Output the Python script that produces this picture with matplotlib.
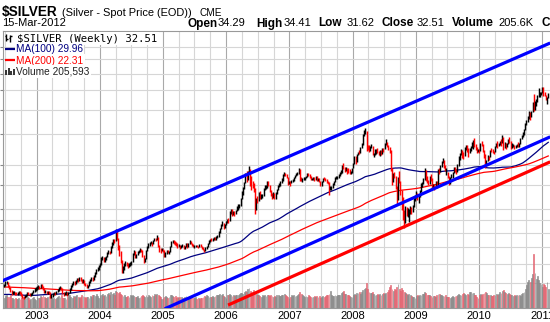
import numpy as np
import pandas as pd
import matplotlib
matplotlib.use("Agg")
import matplotlib.pyplot as plt
import matplotlib.dates as mdates
import matplotlib.transforms as mtransforms
from matplotlib.lines import Line2D
from matplotlib.ticker import FixedLocator, NullLocator, NullFormatter

# weekly closes from Aug 1998 up to the first plotted week, used only to seed the moving averages
warmup_closes = [
    5.20, 5.15, 5.05, 4.98, 5.12, 5.25, 5.30, 5.45, 5.20, 5.05, 4.95, 4.90, 4.98, 5.02, 4.95, 4.90, 4.92, 4.85, 4.92, 4.95, 4.98,
    5.00, 5.10, 5.15, 5.20, 5.30, 5.55, 5.60, 5.50, 5.40, 5.30, 5.10, 5.05, 5.02, 5.00, 5.05, 5.10, 5.20, 5.30, 5.35, 5.30, 5.20,
    5.15, 5.05, 5.10, 5.12, 5.20, 5.30, 5.40, 5.45, 5.35, 5.30, 5.25, 5.20, 5.22, 5.30, 5.25, 5.30, 5.45, 5.65, 5.50, 5.40, 5.35,
    5.30, 5.15, 5.15, 5.20, 5.10, 5.10, 5.20, 5.30, 5.35, 5.40, 5.40,
    5.25, 5.20, 5.15, 5.30, 5.35, 5.30, 5.25, 5.20, 5.10, 5.05, 5.00, 5.05, 5.00, 5.02, 4.98, 4.95, 4.95, 5.00, 5.02, 4.98, 4.95,
    4.98, 5.00, 5.02, 5.05, 5.00, 4.98, 4.95, 4.92, 4.90, 4.88, 4.85, 4.90, 4.92, 4.95, 4.92, 4.90, 4.85, 4.88, 4.85, 4.80, 4.75,
    4.78, 4.75, 4.72, 4.70, 4.65, 4.62, 4.60, 4.58, 4.55, 4.58,
    4.60, 4.62, 4.58, 4.55, 4.50, 4.48, 4.45, 4.42, 4.40, 4.38, 4.35, 4.32, 4.30, 4.32, 4.35, 4.38, 4.40, 4.42, 4.45, 4.40, 4.38,
    4.40, 4.38, 4.35, 4.32, 4.30, 4.28, 4.25, 4.22, 4.20, 4.18, 4.20, 4.22, 4.25, 4.28, 4.30, 4.40, 4.45, 4.38, 4.35, 4.30, 4.25,
    4.20, 4.15, 4.12, 4.10, 4.12, 4.15, 4.25, 4.35, 4.50, 4.55,
    4.58, 4.52, 4.48, 4.45, 4.42, 4.40, 4.45, 4.50, 4.55, 4.60, 4.58, 4.55, 4.58, 4.55, 4.60, 4.58, 4.62, 4.65, 4.70, 4.75, 4.85,
    4.90, 4.95, 4.88, 4.90,
]

first_week = "2002-06-28"

# weekly bars, $SILVER spot, Jun 2002 - Feb 2011
closes = [
    4.92, 5.02, 5.05, 4.90, 4.82, 4.65, 4.55, 4.58, 4.60, 4.55, 4.52, 4.58, 4.62, 4.58, 4.50, 4.40, 4.38, 4.45,
    4.48, 4.55, 4.52, 4.48, 4.52, 4.58, 4.65, 4.72, 4.75,
    # 2003
    4.80, 4.85, 4.82, 4.90, 4.85, 4.75, 4.62, 4.65, 4.60, 4.62, 4.58, 4.45, 4.45, 4.52, 4.58, 4.55, 4.62, 4.70,
    4.78, 4.82, 4.75, 4.55, 4.52, 4.55, 4.58, 4.52, 4.58, 4.72, 4.88, 4.95, 5.05, 5.00, 5.10, 5.20, 5.15, 5.25,
    5.18, 5.05, 5.15, 4.98, 4.95, 4.82, 4.90, 5.05, 5.15, 5.25, 5.18, 5.35, 5.50, 5.65, 5.72, 5.90,
    # 2004
    5.95, 6.25, 6.35, 6.20, 6.30, 6.40, 6.60, 6.70, 6.65, 7.00, 7.25, 7.45, 7.40, 8.10, 7.55, 7.05, 6.70, 6.15,
    5.65, 5.70, 5.95, 6.05, 5.95, 5.85, 5.95, 6.00, 6.10, 6.55, 6.70, 6.40, 6.55, 6.70, 6.75, 6.85, 6.75, 6.45,
    6.15, 6.30, 6.80, 6.95, 7.15, 7.25, 7.30, 7.20, 7.45, 7.55, 7.50, 7.65, 7.10, 6.85, 6.80, 6.85, 6.80,
    # 2005
    6.45, 6.60, 6.75, 6.70, 6.70, 7.05, 7.35, 7.40, 7.30, 7.25, 7.20, 7.05, 7.10, 7.00, 7.05, 7.10, 6.95, 7.05,
    7.25, 7.00, 7.20, 7.35, 7.25, 7.15, 7.05, 7.05, 7.10, 7.05, 7.00, 7.15, 7.05, 6.95, 6.85, 6.80, 6.95, 7.05,
    7.20, 7.35, 7.50, 7.45, 7.55, 7.65, 7.55, 7.70, 7.75, 8.05, 8.30, 8.60, 8.75, 8.40, 8.65, 8.85,
    # 2006
    9.05, 8.90, 9.70, 9.85, 9.55, 9.70, 9.55, 9.85, 10.05, 10.15, 10.25, 10.95, 11.50, 12.10, 12.65, 13.70, 13.15, 14.05,
    14.40, 13.15, 12.70, 12.55, 12.05, 10.35, 10.90, 10.80, 11.55, 11.10, 11.20, 11.30, 12.05, 12.20, 12.25, 12.80, 12.45, 11.85,
    11.50, 11.25, 11.55, 11.05, 11.50, 12.00, 12.30, 12.55, 12.85, 13.05, 13.70, 13.85, 13.80, 13.40, 12.60, 12.90,
    # 2007
    12.70, 13.00, 13.00, 13.30, 13.55, 13.80, 13.90, 14.40, 13.25, 13.05, 13.15, 13.30, 13.35, 13.50, 13.85, 13.65, 13.45, 13.20,
    13.20, 13.25, 13.15, 13.45, 13.15, 13.25, 12.95, 12.45, 12.85, 13.25, 13.20, 13.05, 12.90, 12.75, 12.10, 12.15, 12.20, 12.60,
    12.90, 13.25, 13.40, 13.45, 13.65, 13.90, 14.10, 14.80, 14.65, 14.40, 14.55, 14.20, 14.10, 14.05, 14.05, 14.55,
    # 2008
    15.00, 15.95, 15.65, 16.55, 16.85, 16.80, 17.70, 18.10, 19.80, 20.35, 20.65, 17.85, 17.75, 17.15, 17.70, 17.95, 16.55, 16.60,
    17.15, 17.20, 16.95, 16.80, 17.00, 16.75, 17.45, 17.35, 18.35, 18.55, 17.95, 17.50, 17.05, 14.45, 13.10, 13.90, 13.55, 12.30,
    11.20, 13.30, 12.95, 11.90, 10.95, 9.45, 8.85, 9.85, 9.45, 9.75, 9.95, 10.05, 9.75, 10.30, 10.95, 11.25,
    # 2009
    11.35, 10.95, 11.35, 11.75, 12.55, 12.65, 13.20, 14.25, 13.05, 12.85, 12.75, 13.35, 13.15, 12.25, 12.45, 12.15, 12.85, 12.35,
    14.30, 14.15, 14.85, 15.50, 15.55, 15.05, 14.35, 14.40, 13.45, 12.65, 13.20, 13.75, 14.00, 14.65, 14.25, 14.05, 14.95, 16.05,
    16.60, 17.15, 16.60, 16.15, 17.55, 17.65, 17.45, 16.55, 17.40, 17.65, 18.35, 18.40, 18.30, 17.55, 17.30, 17.35,
    # 2010
    16.95, 18.25, 18.15, 17.25, 16.20, 14.85, 15.65, 16.25, 16.20, 17.20, 17.15, 17.05, 16.85, 17.80, 18.15, 18.05, 18.15, 18.65,
    18.55, 19.40, 17.70, 18.45, 17.85, 18.35, 18.95, 18.75, 17.75, 17.90, 17.95, 17.75, 17.95, 18.10, 17.95, 18.35, 19.10, 19.75,
    19.95, 20.75, 21.95, 22.75, 23.25, 24.45, 23.55, 24.70, 26.75, 25.50, 26.65, 27.00, 28.60, 28.65, 29.20, 29.35, 30.60,
    # 2011
    28.90, 28.50, 27.80, 27.90, 29.05,
]

highs = [
    4.98, 5.10, 5.12, 5.06, 4.95, 4.85, 4.70, 4.65, 4.66, 4.63, 4.60, 4.63, 4.68, 4.66, 4.60, 4.52, 4.45, 4.50,
    4.54, 4.62, 4.60, 4.56, 4.58, 4.63, 4.72, 4.78, 4.82,
    4.88, 4.92, 4.90, 4.98, 4.96, 4.90, 4.78, 4.70, 4.68, 4.68, 4.66, 4.60, 4.52, 4.58, 4.62, 4.62, 4.66, 4.75,
    4.84, 4.90, 4.85, 4.78, 4.60, 4.60, 4.64, 4.62, 4.62, 4.78, 4.92, 5.02, 5.12, 5.10, 5.15, 5.25, 5.24, 5.30,
    5.32, 5.20, 5.20, 5.15, 5.02, 4.98, 4.95, 5.10, 5.20, 5.30, 5.30, 5.40, 5.55, 5.72, 5.80, 5.95,
    6.05, 6.40, 6.48, 6.40, 6.38, 6.48, 6.68, 6.82, 6.76, 7.08, 7.35, 7.55, 7.58, 8.29, 8.15, 7.60, 7.15, 6.75,
    6.20, 5.88, 6.05, 6.15, 6.12, 6.02, 6.02, 6.08, 6.18, 6.62, 6.80, 6.75, 6.60, 6.78, 6.85, 6.92, 6.88, 6.80,
    6.50, 6.35, 6.85, 7.05, 7.25, 7.32, 7.38, 7.35, 7.50, 7.62, 7.65, 7.82, 7.72, 7.15, 6.95, 6.92, 6.90,
    6.85, 6.68, 6.82, 6.80, 6.78, 7.10, 7.42, 7.50, 7.45, 7.40, 7.35, 7.25, 7.18, 7.15, 7.12, 7.18, 7.12, 7.10,
    7.30, 7.28, 7.25, 7.45, 7.40, 7.30, 7.20, 7.12, 7.15, 7.15, 7.10, 7.20, 7.20, 7.10, 7.00, 6.90, 7.00, 7.10,
    7.25, 7.45, 7.55, 7.60, 7.62, 7.72, 7.70, 7.75, 7.82, 8.10, 8.35, 8.68, 8.95, 8.80, 8.70, 8.92,
    9.12, 9.20, 9.75, 9.98, 10.00, 9.80, 9.75, 9.90, 10.25, 10.45, 10.45, 11.05, 11.75, 12.25, 12.80, 13.95, 14.20, 14.15,
    14.85, 14.50, 13.50, 12.95, 12.75, 12.10, 11.05, 11.25, 11.70, 11.75, 11.45, 11.45, 12.15, 12.45, 12.45, 12.95, 13.00, 12.50,
    11.90, 11.60, 11.70, 11.60, 11.65, 12.05, 12.45, 12.70, 13.00, 13.25, 13.80, 14.10, 14.00, 13.85, 13.40, 12.95,
    12.95, 13.10, 13.15, 13.40, 13.65, 13.95, 14.05, 14.55, 14.50, 13.45, 13.25, 13.40, 13.45, 13.60, 14.00, 14.00, 13.75, 13.55,
    13.35, 13.40, 13.40, 13.55, 13.50, 13.35, 13.30, 12.95, 12.95, 13.35, 13.45, 13.30, 13.15, 13.00, 12.85, 12.30, 12.35, 12.75,
    12.95, 13.40, 13.55, 13.60, 13.80, 14.05, 14.30, 15.05, 15.30, 14.75, 14.80, 14.60, 14.60, 14.40, 14.25, 14.65,
    15.30, 16.25, 16.35, 16.65, 16.95, 17.30, 17.75, 18.40, 20.05, 20.80, 21.25, 20.60, 18.05, 18.05, 17.85, 18.30, 17.95, 16.85,
    17.35, 17.35, 17.55, 17.05, 17.20, 17.30, 17.60, 17.65, 18.45, 19.10, 18.60, 18.05, 17.70, 17.20, 14.60, 14.00, 14.05, 13.50,
    12.40, 13.45, 14.15, 12.95, 11.90, 11.20, 9.85, 10.25, 10.15, 10.05, 10.00, 10.30, 10.20, 10.40, 11.20, 11.35,
    11.80, 11.55, 11.45, 11.90, 12.70, 12.80, 13.35, 14.55, 14.35, 13.50, 13.05, 13.60, 13.75, 13.30, 12.60, 12.55, 12.95, 12.90,
    14.40, 14.60, 14.95, 15.60, 16.00, 15.70, 15.05, 14.55, 14.10, 13.50, 13.40, 13.85, 14.10, 14.80, 14.70, 14.40, 15.10, 16.30,
    16.85, 17.40, 17.20, 16.90, 17.80, 18.00, 18.05, 17.55, 17.60, 17.90, 18.60, 18.85, 19.35, 18.25, 17.75, 17.45,
    17.35, 18.40, 18.75, 18.25, 17.20, 16.60, 15.80, 16.45, 16.35, 17.30, 17.55, 17.40, 17.15, 17.90, 18.35, 18.70, 18.40, 18.80,
    19.15, 19.80, 19.45, 18.55, 18.50, 18.50, 19.05, 19.40, 18.75, 18.35, 18.30, 18.05, 18.15, 18.25, 18.60, 18.45, 19.25, 19.85,
    20.35, 20.95, 22.10, 22.90, 23.65, 24.70, 24.50, 24.90, 27.00, 28.95, 27.10, 27.70, 28.80, 30.70, 29.65, 29.55, 30.90,
    30.95, 29.45, 28.70, 28.25, 29.25,
]

lows = [
    4.85, 4.90, 4.98, 4.85, 4.75, 4.60, 4.50, 4.52, 4.54, 4.50, 4.48, 4.50, 4.55, 4.53, 4.45, 4.36, 4.33, 4.36,
    4.42, 4.46, 4.48, 4.44, 4.45, 4.50, 4.56, 4.62, 4.68,
    4.70, 4.76, 4.75, 4.80, 4.78, 4.70, 4.58, 4.58, 4.55, 4.55, 4.52, 4.38, 4.37, 4.42, 4.48, 4.50, 4.52, 4.60,
    4.68, 4.74, 4.70, 4.52, 4.45, 4.48, 4.50, 4.46, 4.50, 4.56, 4.70, 4.85, 4.92, 4.95, 4.98, 5.05, 5.08, 5.12,
    5.12, 5.00, 5.02, 4.95, 4.88, 4.78, 4.80, 4.88, 5.02, 5.12, 5.12, 5.15, 5.32, 5.45, 5.60, 5.68,
    5.82, 5.92, 6.20, 6.10, 6.12, 6.22, 6.38, 6.55, 6.55, 6.62, 6.95, 7.15, 7.25, 7.38, 7.45, 6.85, 6.45, 6.05,
    5.49, 5.52, 5.65, 5.90, 5.88, 5.78, 5.80, 5.88, 5.95, 6.08, 6.50, 6.35, 6.32, 6.50, 6.62, 6.70, 6.68, 6.40,
    6.02, 6.10, 6.28, 6.75, 6.92, 7.10, 7.18, 7.10, 7.18, 7.40, 7.40, 7.48, 7.00, 6.70, 6.62, 6.75, 6.72,
    6.38, 6.42, 6.55, 6.62, 6.58, 6.68, 7.00, 7.28, 7.20, 7.15, 7.10, 6.95, 6.98, 6.90, 6.95, 7.00, 6.90, 6.90,
    7.00, 6.95, 6.98, 7.18, 7.20, 7.10, 7.00, 6.95, 7.00, 6.98, 6.92, 6.98, 7.00, 6.90, 6.80, 6.72, 6.78, 6.90,
    7.00, 7.18, 7.32, 7.38, 7.42, 7.50, 7.50, 7.50, 7.65, 7.72, 8.00, 8.28, 8.55, 8.30, 8.38, 8.60,
    8.80, 8.75, 8.90, 9.55, 9.38, 9.45, 9.35, 9.50, 9.80, 9.90, 10.05, 10.30, 10.95, 11.40, 12.00, 12.65, 12.80, 13.05,
    13.95, 12.30, 11.90, 12.10, 11.65, 9.50, 9.90, 10.55, 10.75, 11.00, 10.95, 11.05, 11.30, 11.90, 12.00, 12.15, 12.30, 11.70,
    11.30, 10.90, 11.05, 10.95, 11.00, 11.45, 11.90, 12.20, 12.40, 12.75, 13.00, 13.55, 13.50, 13.30, 12.50, 12.55,
    12.40, 12.65, 12.80, 12.90, 13.25, 13.50, 13.65, 13.85, 12.95, 12.90, 12.85, 13.10, 13.10, 13.30, 13.45, 13.55, 13.30, 13.05,
    13.05, 13.05, 12.95, 13.10, 12.95, 13.00, 12.85, 12.30, 12.40, 12.80, 13.05, 12.90, 12.70, 12.60, 11.35, 11.85, 11.90, 12.15,
    12.50, 12.80, 13.15, 13.20, 13.35, 13.55, 13.80, 14.00, 14.45, 14.10, 14.20, 13.85, 13.95, 13.85, 13.75, 14.00,
    14.65, 15.10, 15.10, 15.50, 16.40, 16.60, 16.85, 17.55, 18.05, 19.65, 19.95, 17.05, 17.20, 16.90, 17.05, 17.55, 16.40, 16.10,
    16.50, 16.70, 16.75, 16.55, 16.35, 16.50, 16.65, 16.95, 17.35, 18.05, 17.75, 17.20, 16.75, 14.25, 12.50, 12.85, 13.35, 12.05,
    10.45, 10.85, 12.65, 11.35, 9.90, 9.05, 8.40, 8.75, 9.35, 9.30, 8.85, 9.55, 9.50, 9.70, 10.20, 10.70,
    11.05, 10.80, 10.55, 11.20, 11.65, 12.20, 12.55, 13.10, 12.95, 12.70, 12.45, 12.60, 12.95, 12.10, 12.05, 11.95, 12.20, 12.15,
    12.35, 13.80, 14.05, 14.70, 15.25, 14.65, 14.25, 13.70, 13.35, 12.50, 12.60, 13.25, 13.30, 13.95, 14.10, 13.80, 14.05, 14.90,
    15.80, 16.50, 16.05, 15.90, 16.25, 17.20, 16.95, 16.15, 16.80, 17.10, 17.55, 17.50, 17.70, 17.30, 16.80, 17.00,
    16.75, 17.10, 17.85, 16.95, 16.05, 14.65, 14.95, 15.60, 15.70, 16.10, 16.95, 16.85, 16.60, 16.90, 17.70, 17.65, 17.85, 18.00,
    17.95, 18.35, 17.30, 17.55, 17.40, 17.70, 18.25, 18.50, 17.40, 17.65, 17.70, 17.40, 17.55, 17.75, 17.80, 17.80, 18.30, 19.20,
    19.55, 19.85, 20.70, 21.75, 22.45, 23.10, 22.90, 23.35, 24.50, 24.90, 25.00, 26.05, 26.95, 28.30, 28.15, 28.65, 29.20,
    28.50, 28.45, 27.40, 26.40, 27.90,
]

# weekly volume, thousands of contracts
volume = [
    48, 55, 60, 52, 50, 58, 47, 44, 42, 45, 40, 43, 46, 41, 44, 50, 47, 42, 45, 49, 44, 38, 42, 46, 50, 41, 36,
    52, 48, 45, 55, 50, 58, 53, 46, 44, 49, 57, 52, 47, 43, 45, 42, 48, 51, 55, 50, 58, 46, 44, 47, 42, 49,
    55, 60, 52, 48, 54, 50, 57, 62, 49, 46, 52, 58, 55, 49, 45, 50, 53, 47, 56, 52, 60, 58, 54, 65, 57, 45,
    62, 58, 66, 55, 60, 57, 63, 68, 59, 72, 65, 70, 61, 78, 74, 69, 75, 66, 58, 55, 60, 52, 49, 55, 51, 58,
    54, 62, 57, 53, 50, 56, 48, 52, 55, 59, 54, 50, 58, 53, 60, 57, 52, 61, 56, 63, 58, 66, 60, 54, 49, 42, 47,
    52, 56, 50, 47, 53, 58, 61, 55, 50, 54, 48, 51, 46, 49, 52, 47, 45, 50, 54, 48, 51, 47, 53, 49, 44, 46,
    50, 43, 47, 41, 45, 48, 52, 55, 50, 58, 54, 49, 53, 51, 56, 50, 55, 60, 58, 62, 65, 59, 63, 57, 52, 48,
    60, 58, 65, 62, 57, 60, 55, 59, 62, 58, 64, 68, 70, 66, 72, 78, 75, 88, 92, 80, 74, 69, 84, 71, 63, 58,
    60, 55, 52, 58, 55, 60, 56, 62, 58, 54, 59, 55, 52, 56, 53, 58, 61, 57, 55, 60, 58, 63, 59, 54, 49, 45,
    52, 58, 55, 60, 54, 57, 62, 66, 75, 64, 58, 55, 52, 56, 53, 58, 55, 50, 53, 49, 55, 52, 57, 50, 56, 48,
    52, 55, 51, 54, 60, 58, 66, 78, 62, 57, 54, 59, 55, 61, 58, 62, 68, 72, 80, 66, 63, 58, 60, 56, 52, 50,
    62, 66, 60, 70, 68, 72, 65, 75, 82, 86, 92, 115, 88, 76, 70, 68, 72, 65, 62, 60, 66, 58, 64, 61, 66, 70,
    63, 68, 74, 82, 95, 108, 86, 78, 90, 84, 96, 112, 88, 80, 92, 85, 76, 70, 66, 60, 63, 58, 55, 52, 50, 48,
    55, 60, 57, 62, 58, 64, 66, 72, 68, 62, 58, 60, 55, 52, 56, 54, 50, 58, 64, 66, 62, 60, 57, 54, 58, 52,
    50, 53, 48, 52, 55, 50, 54, 57, 60, 65, 62, 58, 66, 70, 64, 60, 67, 62, 72, 76, 70, 68, 62, 58, 52, 48,
    60, 66, 62, 64, 70, 75, 68, 62, 58, 60, 57, 55, 62, 58, 64, 60, 66, 72, 68, 80, 84, 74, 68, 64, 70, 66,
    62, 58, 55, 60, 57, 62, 58, 60, 55, 64, 70, 76, 90, 105, 118, 130, 122, 140, 155, 250, 160, 135, 150, 128,
    115, 110, 98,
    112, 105, 98, 120, 90,
]

ma_periods = [100, 200]
ma_colors = ["#000080", "#ff0000"]

# channel lines drawn on the chart: two (date, price) anchors each
upper_channel_dates = ["2002-06-14", "2011-02-15"]
upper_channel_prices = [5.11, 46.6]
lower_channel_dates = ["2005-01-10", "2011-02-15"]
lower_channel_prices = [3.95, 19.5]
support_dates = ["2006-01-11", "2011-02-15"]
support_prices = [4.09, 15.46]

grid_prices = [5, 6, 7, 8, 9, 10, 12.5, 15, 20, 25, 30, 35, 40, 45]

quote_labels = ["Open", "High", "Low", "Close", "Volume", "C"]
quote_values = ["34.29", "34.41", "31.62", "32.51", "205.6K", ""]
quote_label_x = [188, 256, 318, 381, 452, 542]
quote_value_x = [218, 284, 347, 417, 498, 560]

n = len(closes)
if not (len(highs) == len(lows) == len(volume) == n):
    raise ValueError(f"lengths {n} {len(highs)} {len(lows)} {len(volume)}")

W, H = 550, 322
fig = plt.figure(figsize=(W / 100, H / 100), dpi=100)
fig.patch.set_facecolor("white")
ax = fig.add_axes([2.5 / W, 14 / H, (W - 2.5) / W, 277 / H])
ax.set_yscale("log")

dates = pd.date_range(first_week, periods=n, freq="W-FRI")
x = mdates.date2num(dates)

prev = np.array(warmup_closes[-1:] + closes[:-1])
up = np.array(closes) >= prev

# volume sits at the foot of the price panel on its own linear scale
vol_ceiling = 1280.0
vol_trans = mtransforms.blended_transform_factory(
    ax.transData, mtransforms.Affine2D().scale(1, 1 / vol_ceiling) + ax.transAxes)
ax.bar(x, volume, width=5.0, bottom=0, transform=vol_trans,
       color=np.where(up, "#b0b0b0", "#f2a3ab"),
       edgecolor=np.where(up, "#7a7a7a", "#dd4c5a"), linewidth=0.4, zorder=1)

# moving averages off the full close history
full = pd.Series(warmup_closes + closes, dtype=float)
for p, c in zip(ma_periods, ma_colors):
    ma = full.rolling(p).mean().to_numpy()[-n:]
    ax.plot(x, ma, color=c, lw=0.9, zorder=2)

# weekly high-low bars, red on down closes
ax.vlines(x, lows, highs, colors=np.where(up, "#000000", "#ff0000"), lw=1.05, zorder=3)

for d, p, c in [(upper_channel_dates, upper_channel_prices, "#0000ff"),
                (lower_channel_dates, lower_channel_prices, "#0000ff"),
                (support_dates, support_prices, "#ff0000")]:
    ax.plot(mdates.datestr2num(d), p, color=c, lw=2.3, solid_capstyle="butt", zorder=4)

ax.set_xlim(mdates.datestr2num("2002-06-18"), mdates.datestr2num("2011-02-14"))
ax.set_ylim(3.98, 52.1)

ax.xaxis.set_major_locator(mdates.YearLocator())
ax.xaxis.set_major_formatter(mdates.DateFormatter("%Y"))
ax.xaxis.set_minor_locator(mdates.MonthLocator(bymonth=(4, 7, 10)))
ax.yaxis.set_major_locator(FixedLocator(grid_prices))
ax.yaxis.set_minor_locator(NullLocator())
ax.yaxis.set_major_formatter(NullFormatter())
ax.set_axisbelow(True)
ax.grid(which="major", axis="x", color="#a9a9a9", lw=0.8)
ax.grid(which="minor", axis="x", color="#d6d6d6", lw=0.8)
ax.grid(which="major", axis="y", color="#d6d6d6", lw=0.8)
ax.tick_params(axis="x", which="both", length=0, pad=2.5, labelsize=8,
               labelfontfamily="Liberation Sans")
ax.tick_params(axis="y", length=2.2, direction="out", color="#888888", labelleft=False)
for side in ["left", "top", "bottom"]:
    ax.spines[side].set_color("#999999")
    ax.spines[side].set_linewidth(0.8)
ax.spines["right"].set_visible(False)

# header, placed in pixel coordinates
def fx(px):
    return px / W


def fy(py):
    return 1 - py / H


fig.text(fx(2), fy(16), "$SILVER", fontsize=9.8, fontweight="bold", family="Liberation Sans", va="baseline")
fig.text(fx(62), fy(16), "(Silver - Spot Price (EOD))", fontsize=7.9, family="Liberation Sans", va="baseline")
fig.text(fx(199), fy(16), "CME", fontsize=7.2, family="Liberation Sans", va="baseline")
fig.text(fx(2), fy(26.5), "15-Mar-2012", fontsize=8, family="Liberation Sans", va="baseline")
for lab, val, lx, vx in zip(quote_labels, quote_values, quote_label_x, quote_value_x):
    fig.text(fx(lx), fy(26.5), lab, fontsize=8.5, fontweight="bold", family="Liberation Sans", va="baseline")
    if val:
        fig.text(fx(vx), fy(26.5), val, fontsize=8, family="Liberation Sans", va="baseline")

# legend block in the top-left corner of the panel
box = dict(facecolor="white", edgecolor="none", pad=1.0)
fig.text(fx(17), fy(41.5), "$SILVER (Weekly) 32.51", fontsize=7.7, family="DejaVu Sans Mono",
         va="baseline", bbox=box)
fig.text(fx(16), fy(52.5), "MA(100) 29.96", fontsize=7.3, color="#000080", family="Liberation Sans",
         va="baseline", bbox=box)
fig.text(fx(16), fy(63.5), "MA(200) 22.31", fontsize=7.3, color="#ff0000", family="Liberation Sans",
         va="baseline", bbox=box)
fig.text(fx(16), fy(74.5), "Volume 205,593", fontsize=7.3, color="#222222", family="Liberation Sans",
         va="baseline", bbox=box)

pix = mtransforms.Affine2D().scale(1 / W, -1 / H).translate(0, 1) + fig.transFigure
icon_segments = [
    ([5, 15], [49, 49], "#000080", 1.6),
    ([5, 15], [60, 60], "#ff0000", 1.6),
    ([6, 6], [34, 41], "#000000", 1.0),
    ([4.5, 6], [36, 36], "#000000", 1.0),
    ([6, 7.5], [39, 39], "#000000", 1.0),
    ([10, 10], [35, 42], "#000000", 1.0),
    ([8.5, 10], [38, 38], "#000000", 1.0),
    ([10, 11.5], [36, 36], "#000000", 1.0),
    ([6, 6], [70, 75], "#333333", 1.4),
    ([8.5, 8.5], [68, 75], "#333333", 1.4),
    ([11, 11], [71, 75], "#333333", 1.4),
    ([13.5, 13.5], [69, 75], "#333333", 1.4),
]
for xs, ys, c, w in icon_segments:
    fig.add_artist(Line2D(xs, ys, color=c, lw=w, transform=pix, solid_capstyle="butt"))

fig.savefig("out.png", dpi=100)
